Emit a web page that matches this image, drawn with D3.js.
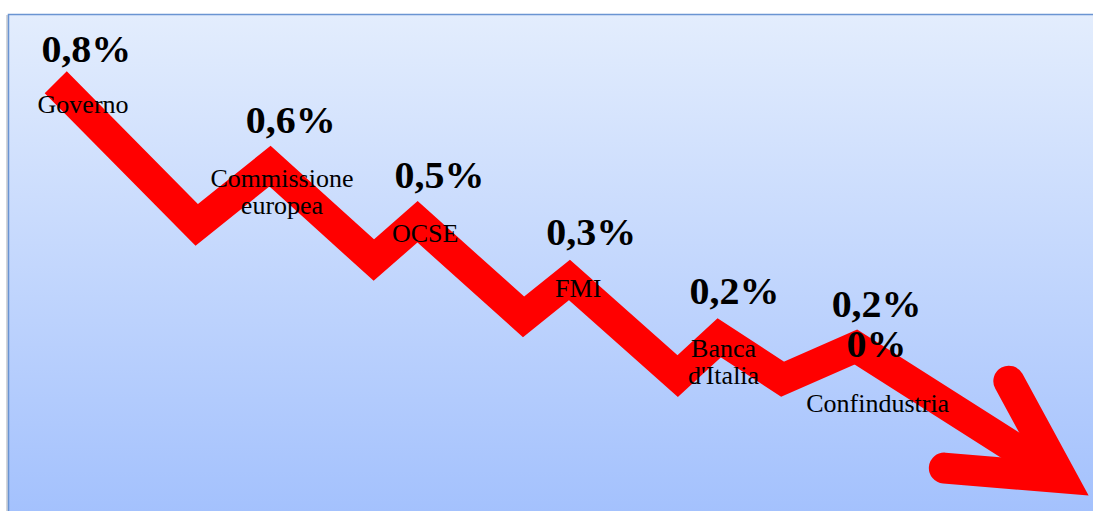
<!DOCTYPE html>
<html>
<head>
<meta charset="utf-8">
<script src="https://cdn.jsdelivr.net/npm/d3@7"></script>
<style>
  html, body { margin: 0; padding: 0; background: #fff; }
  svg { display: block; }
</style>
</head>
<body>
<div id="chart"></div>
<script>
// The svg
var width = 1093;
var height = 511;

// sources of the forecast
var names = [["Governo"], ["Commissione", "europea"], ["OCSE"], ["FMI"], ["Banca", "d'Italia"], ["Confindustria"]];
// growth forecast (second line for Confindustria)
var values = [["0,8%"], ["0,6%"], ["0,5%"], ["0,3%"], ["0,2%"], ["0,2%", "0%"]];

// trend line vertices, in % of the slide (peak = forecast, valley between)
var trendX = [5.1, 18.0, 24.7, 34.2, 38.2, 47.9, 52.1, 62.0, 65.8, 71.6, 78.3, 97.1];
var trendY = [16.1, 44.0, 32.5, 50.9, 43.4, 62.0, 54.8, 73.6, 66.1, 74.2, 67.9, 93.5];
// arrow head: upper barb end, tip, lower barb end
var headX = [92.3, 97.1, 86.4];
var headY = [74.6, 93.5, 91.6];

// where the labels sit, in % of the slide
var valueX = [7.9, 26.6, 40.2, 54.1, 67.2, 80.2];
var valueY = [12.1, 26.0, 36.8, 47.9, 59.5, 62.0];
var nameX = [7.6, 25.8, 38.9, 52.9, 66.2, 80.3];
var nameY = [22.1, 36.6, 47.4, 58.1, 69.9, 80.6];

var svg = d3.select("#chart")
    .append("svg")
    .attr("width", width)
    .attr("height", height);

var x = d3.scaleLinear().domain([0, 100]).range([0, width]);
var y = d3.scaleLinear().domain([0, 100]).range([0, height]);

// background gradient
var grad = svg.append("defs").append("linearGradient")
    .attr("id", "bg")
    .attr("x1", 0).attr("y1", 0).attr("x2", 0).attr("y2", 1);
grad.append("stop").attr("offset", "0%").attr("stop-color", "#e3edfd");
grad.append("stop").attr("offset", "100%").attr("stop-color", "#a2c0fd");

// little shadow on the left
svg.append("rect")
    .attr("x", 6).attr("y", 15)
    .attr("width", 3).attr("height", height)
    .attr("fill", "#d4d6da");

svg.append("rect")
    .attr("x", 8.5).attr("y", 14.5)
    .attr("width", width).attr("height", height)
    .attr("fill", "url(#bg)")
    .attr("stroke", "#6a94d2")
    .attr("stroke-width", 1.5);

// the red trend
var line = d3.line()
    .x(function (d) { return x(d[0]) })
    .y(function (d) { return y(d[1]) });

svg.append("path")
    .attr("d", line(d3.zip(trendX, trendY)))
    .attr("fill", "none")
    .attr("stroke", "#ff0000")
    .attr("stroke-width", 31)
    .attr("stroke-linejoin", "miter")
    .attr("stroke-miterlimit", 10)
    .attr("stroke-linecap", "butt");

svg.append("path")
    .attr("d", line(d3.zip(headX, headY)))
    .attr("fill", "none")
    .attr("stroke", "#ff0000")
    .attr("stroke-width", 31)
    .attr("stroke-linejoin", "miter")
    .attr("stroke-miterlimit", 10)
    .attr("stroke-linecap", "round");

// text is a bit stretched sideways in the original slide
function addLabels(cls, data, xs, ys, size, weight, lh, sx) {
    svg.selectAll("text." + cls)
        .data(data)
        .enter()
        .append("text")
        .attr("class", cls)
        .attr("text-anchor", "middle")
        .attr("font-family", "'Liberation Serif', 'Times New Roman', serif")
        .attr("font-weight", weight)
        .attr("font-size", size)
        .attr("fill", "#000")
        .attr("transform", function (d, i) { return "translate(" + x(xs[i]) + "," + y(ys[i]) + ") scale(" + sx + ",1)" })
        .each(function (d) {
            d3.select(this).selectAll("tspan")
                .data(d)
                .enter()
                .append("tspan")
                .attr("x", 0)
                .attr("y", function (t, j) { return j * lh })
                .text(function (t) { return t });
        });
}

// percentages
addLabels("value", values, valueX, valueY, 37, "bold", 40, 1.08);
// sources
addLabels("name", names, nameX, nameY, 25, "normal", 26.5, 1.04);
</script>
</body>
</html>
